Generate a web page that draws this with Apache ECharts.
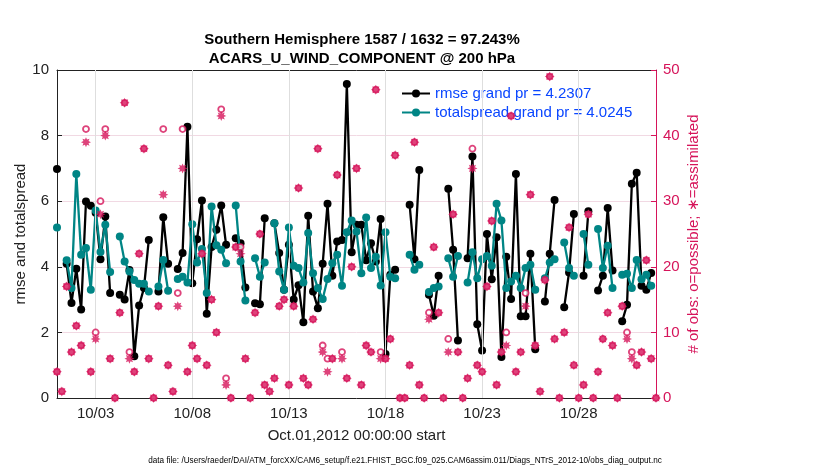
<!DOCTYPE html>
<html>
<head>
<meta charset="utf-8">
<script src="https://cdn.jsdelivr.net/npm/echarts@6/dist/echarts.min.js"></script>
<style>html,body{margin:0;padding:0;background:#fff}#c{width:830px;height:470px}</style>
</head>
<body>
<div id="c"></div>
<script>
// 6-hourly values, index 0 = Oct 01 00:00
const rmse = [6.98,null,4.09,2.9,3.94,2.7,5.99,5.86,5.65,4.23,5.53,3.2,null,3.15,3.0,3.9,1.27,2.82,3.35,4.82,
null,3.25,5.51,4.09,null,3.93,4.42,8.27,3.5,4.84,6.02,2.57,4.6,5.13,5.87,4.67,null,4.87,4.72,3.37,
null,2.89,2.86,5.48,null,5.33,4.42,3.3,4.67,3.0,3.44,2.31,5.56,3.25,2.74,4.09,5.92,3.73,4.77,4.82,
9.57,4.44,5.28,5.28,4.2,4.72,4.16,5.46,1.34,3.76,3.91,null,null,5.89,4.23,6.95,null,3.15,2.51,3.73,
null,6.38,4.52,1.75,null,4.26,7.36,2.25,1.45,5.0,3.62,4.9,1.25,4.31,3.02,6.83,2.49,2.49,4.4,1.49,
null,2.94,4.4,6.04,null,2.77,3.83,5.61,null,3.73,5.69,null,3.28,3.73,5.79,3.89,null,2.34,2.84,6.53,
6.87,3.42,3.3,3.81,null];
const totalspread = [5.2,null,4.2,3.35,6.83,4.37,4.57,3.3,5.72,4.45,5.28,3.84,null,4.92,4.16,3.86,3.6,3.48,3.48,3.25,
null,3.4,4.21,3.27,null,3.63,3.7,3.52,5.3,4.13,4.54,3.2,5.84,4.66,4.52,4.11,null,5.87,4.16,2.97,
null,4.26,3.7,4.13,null,5.33,3.86,3.3,5.2,4.03,3.96,3.52,5.03,3.8,3.35,3.02,3.63,4.11,4.37,3.42,
5.05,5.41,5.08,3.8,5.5,3.96,4.31,3.43,5.05,3.7,3.65,null,null,4.37,3.91,4.06,null,3.23,3.35,3.4,
null,4.26,3.7,4.33,null,3.52,4.44,3.65,4.23,4.33,4.03,5.92,5.41,3.35,3.55,3.73,3.35,3.96,4.06,3.3,
null,3.65,4.13,4.23,null,4.74,3.96,3.73,null,5.0,4.06,null,5.15,3.96,4.64,3.35,null,3.76,3.79,3.35,
4.21,3.62,3.76,3.42,null];
const nPossible = [4,1,17,7,11,8,41,4,10,30,41,6,0,13,45,7,4,22,38,6,
0,14,41,5,1,16,41,4,8,6,22,5,15,10,44,3,0,23,23,6,
0,13,25,2,1,3,14,15,2,14,32,3,2,12,38,8,6,6,34,7,
3,20,35,2,8,7,47,7,6,9,37,0,0,5,39,2,0,13,23,13,
0,9,28,7,0,3,38,5,4,17,27,2,7,10,43,4,7,16,31,8,
1,18,49,9,0,10,26,5,0,2,28,0,4,9,13,8,0,14,10,7,
5,7,21,6,0];
const nAssimilated = [4,1,17,7,11,8,39,4,9,28,40,6,0,13,45,6,4,22,38,6,
0,14,31,5,1,14,35,4,8,6,22,5,15,10,43,2,0,23,22,6,
0,13,25,2,1,3,14,15,2,14,32,3,2,12,38,7,4,6,34,6,
3,20,35,2,8,7,47,6,6,9,37,0,0,5,39,2,0,12,23,13,
0,7,28,7,0,3,35,5,4,17,27,2,7,8,43,4,7,14,31,8,
1,18,49,9,0,10,26,5,0,2,28,0,4,9,13,8,0,14,9,6,
5,7,21,6,0];
const xTickDays = [2,7,12,17,22,27];
const xTickLabels = ['10/03','10/08','10/13','10/18','10/23','10/28'];
const rmseName = 'rmse grand pr = 4.2307';
const spreadName = 'totalspread grand pr = 4.0245';

const times = rmse.map((_, i) => i * 0.25);
const pair = arr => arr.map((v, i) => [times[i], v]);

// asterisk-like marker
let p = [];
for (let k = 0; k < 16; k++) {
  const a = k * Math.PI / 8 - Math.PI / 2;
  const r = (k % 2 === 0) ? 1 : 0.55;
  p.push((k === 0 ? 'M' : 'L') + (r * Math.cos(a)).toFixed(3) + ' ' + (r * Math.sin(a)).toFixed(3));
}
const starPath = 'path://' + p.join(' ') + ' Z';

const MAG = '#d6145a';
const FONT = 'Liberation Sans';

const chart = echarts.init(document.getElementById('c'));
chart.setOption({
  animation: false,
  textStyle: { fontFamily: FONT },
  title: [
    { text: 'Southern Hemisphere 1587 / 1632 = 97.243%\nACARS_U_WIND_COMPONENT @ 200 hPa',
      left: 357, top: 25, textAlign: 'center',
      textStyle: { fontFamily: FONT, fontSize: 15, fontWeight: 'bold', color: '#000', lineHeight: 19 } },
    { text: 'data file: /Users/raeder/DAI/ATM_forcXX/CAM6_setup/f.e21.FHIST_BGC.f09_025.CAM6assim.011/Diags_NTrS_2012-10/obs_diag_output.nc',
      left: 400, top: 452, textAlign: 'center',
      textStyle: { fontFamily: FONT, fontSize: 8.2, fontWeight: 'normal', color: '#000' } }
  ],
  legend: {
    data: [rmseName, spreadName], orient: 'vertical', left: 396, top: 81,
    itemWidth: 28, itemHeight: 10, itemGap: 4,
    textStyle: { fontFamily: FONT, fontSize: 15, color: '#0a46ff' }
  },
  grid: { left: 57, right: 174, top: 70, bottom: 72 },
  xAxis: [
    { type: 'value', min: 0, max: 31, position: 'bottom',
      name: 'Oct.01,2012 00:00:00 start', nameLocation: 'middle', nameGap: 30, nameMoveOverlap: false,
      nameTextStyle: { fontFamily: FONT, fontSize: 15, color: '#222' },
      axisLine: { onZero: false, lineStyle: { color: '#222', width: 1 } },
      axisTick: { inside: true, length: 5, customValues: xTickDays, lineStyle: { color: '#222' } },
      axisLabel: { customValues: xTickDays, fontSize: 15, color: '#222', margin: 8,
        formatter: v => xTickLabels[xTickDays.indexOf(v)] || '' },
      splitLine: { show: false } },
    { type: 'value', min: 0, max: 31, position: 'top',
      axisLine: { onZero: false, lineStyle: { color: '#222', width: 1 } },
      axisTick: { inside: true, length: 5, customValues: xTickDays, lineStyle: { color: '#222' } },
      axisLabel: { show: false }, splitLine: { show: false } }
  ],
  yAxis: [
    { type: 'value', min: 0, max: 10, interval: 2, position: 'left',
      name: 'rmse and totalspread', nameLocation: 'middle', nameGap: 29, nameRotate: 90, nameMoveOverlap: false,
      nameTextStyle: { fontFamily: FONT, fontSize: 15, color: '#222' },
      axisLine: { show: true, onZero: false, lineStyle: { color: '#222', width: 1 } },
      axisTick: { show: true, inside: true, length: 5, lineStyle: { color: '#222' } },
      axisLabel: { fontSize: 15, color: '#222', margin: 8 },
      splitLine: { show: true, lineStyle: { color: '#f1d9e3', width: 1 } } },
    { type: 'value', min: 0, max: 50, interval: 10, position: 'right',
      name: '# of obs: o=possible; \u2217=assimilated', nameLocation: 'middle', nameGap: 30, nameRotate: 90, nameMoveOverlap: false,
      nameTextStyle: { fontFamily: FONT, fontSize: 15, color: MAG },
      axisLine: { show: true, onZero: false, lineStyle: { color: MAG, width: 1 } },
      axisTick: { show: true, inside: true, length: 5, lineStyle: { color: MAG } },
      axisLabel: { fontSize: 15, color: MAG, margin: 7 },
      splitLine: { show: false } }
  ],
  series: [
    { type: 'line', name: 'vgrid', data: [], z: 1, silent: true,
      markLine: { silent: true, symbol: 'none', label: { show: false },
        lineStyle: { color: '#dedede', width: 1, type: 'solid' },
        data: xTickDays.map(d => ({ xAxis: d })) } },
    { type: 'line', name: rmseName, data: pair(rmse), yAxisIndex: 0, z: 3,
      connectNulls: false, symbol: 'circle', symbolSize: 8, showSymbol: true,
      lineStyle: { color: '#000', width: 2.3 }, itemStyle: { color: '#000' } },
    { type: 'line', name: spreadName, data: pair(totalspread), yAxisIndex: 0, z: 4,
      connectNulls: false, symbol: 'circle', symbolSize: 8, showSymbol: true,
      lineStyle: { color: '#008585', width: 2.3 }, itemStyle: { color: '#008585' } },
    { type: 'scatter', name: 'possible', data: pair(nPossible), yAxisIndex: 1, z: 5,
      symbol: 'circle', symbolSize: 6,
      itemStyle: { color: '#fff', borderColor: MAG, borderWidth: 1.8 } },
    { type: 'scatter', name: 'assimilated', data: pair(nAssimilated), yAxisIndex: 1, z: 6,
      symbol: starPath, symbolSize: 10,
      itemStyle: { color: MAG } }
  ]
});
</script>
</body>
</html>
